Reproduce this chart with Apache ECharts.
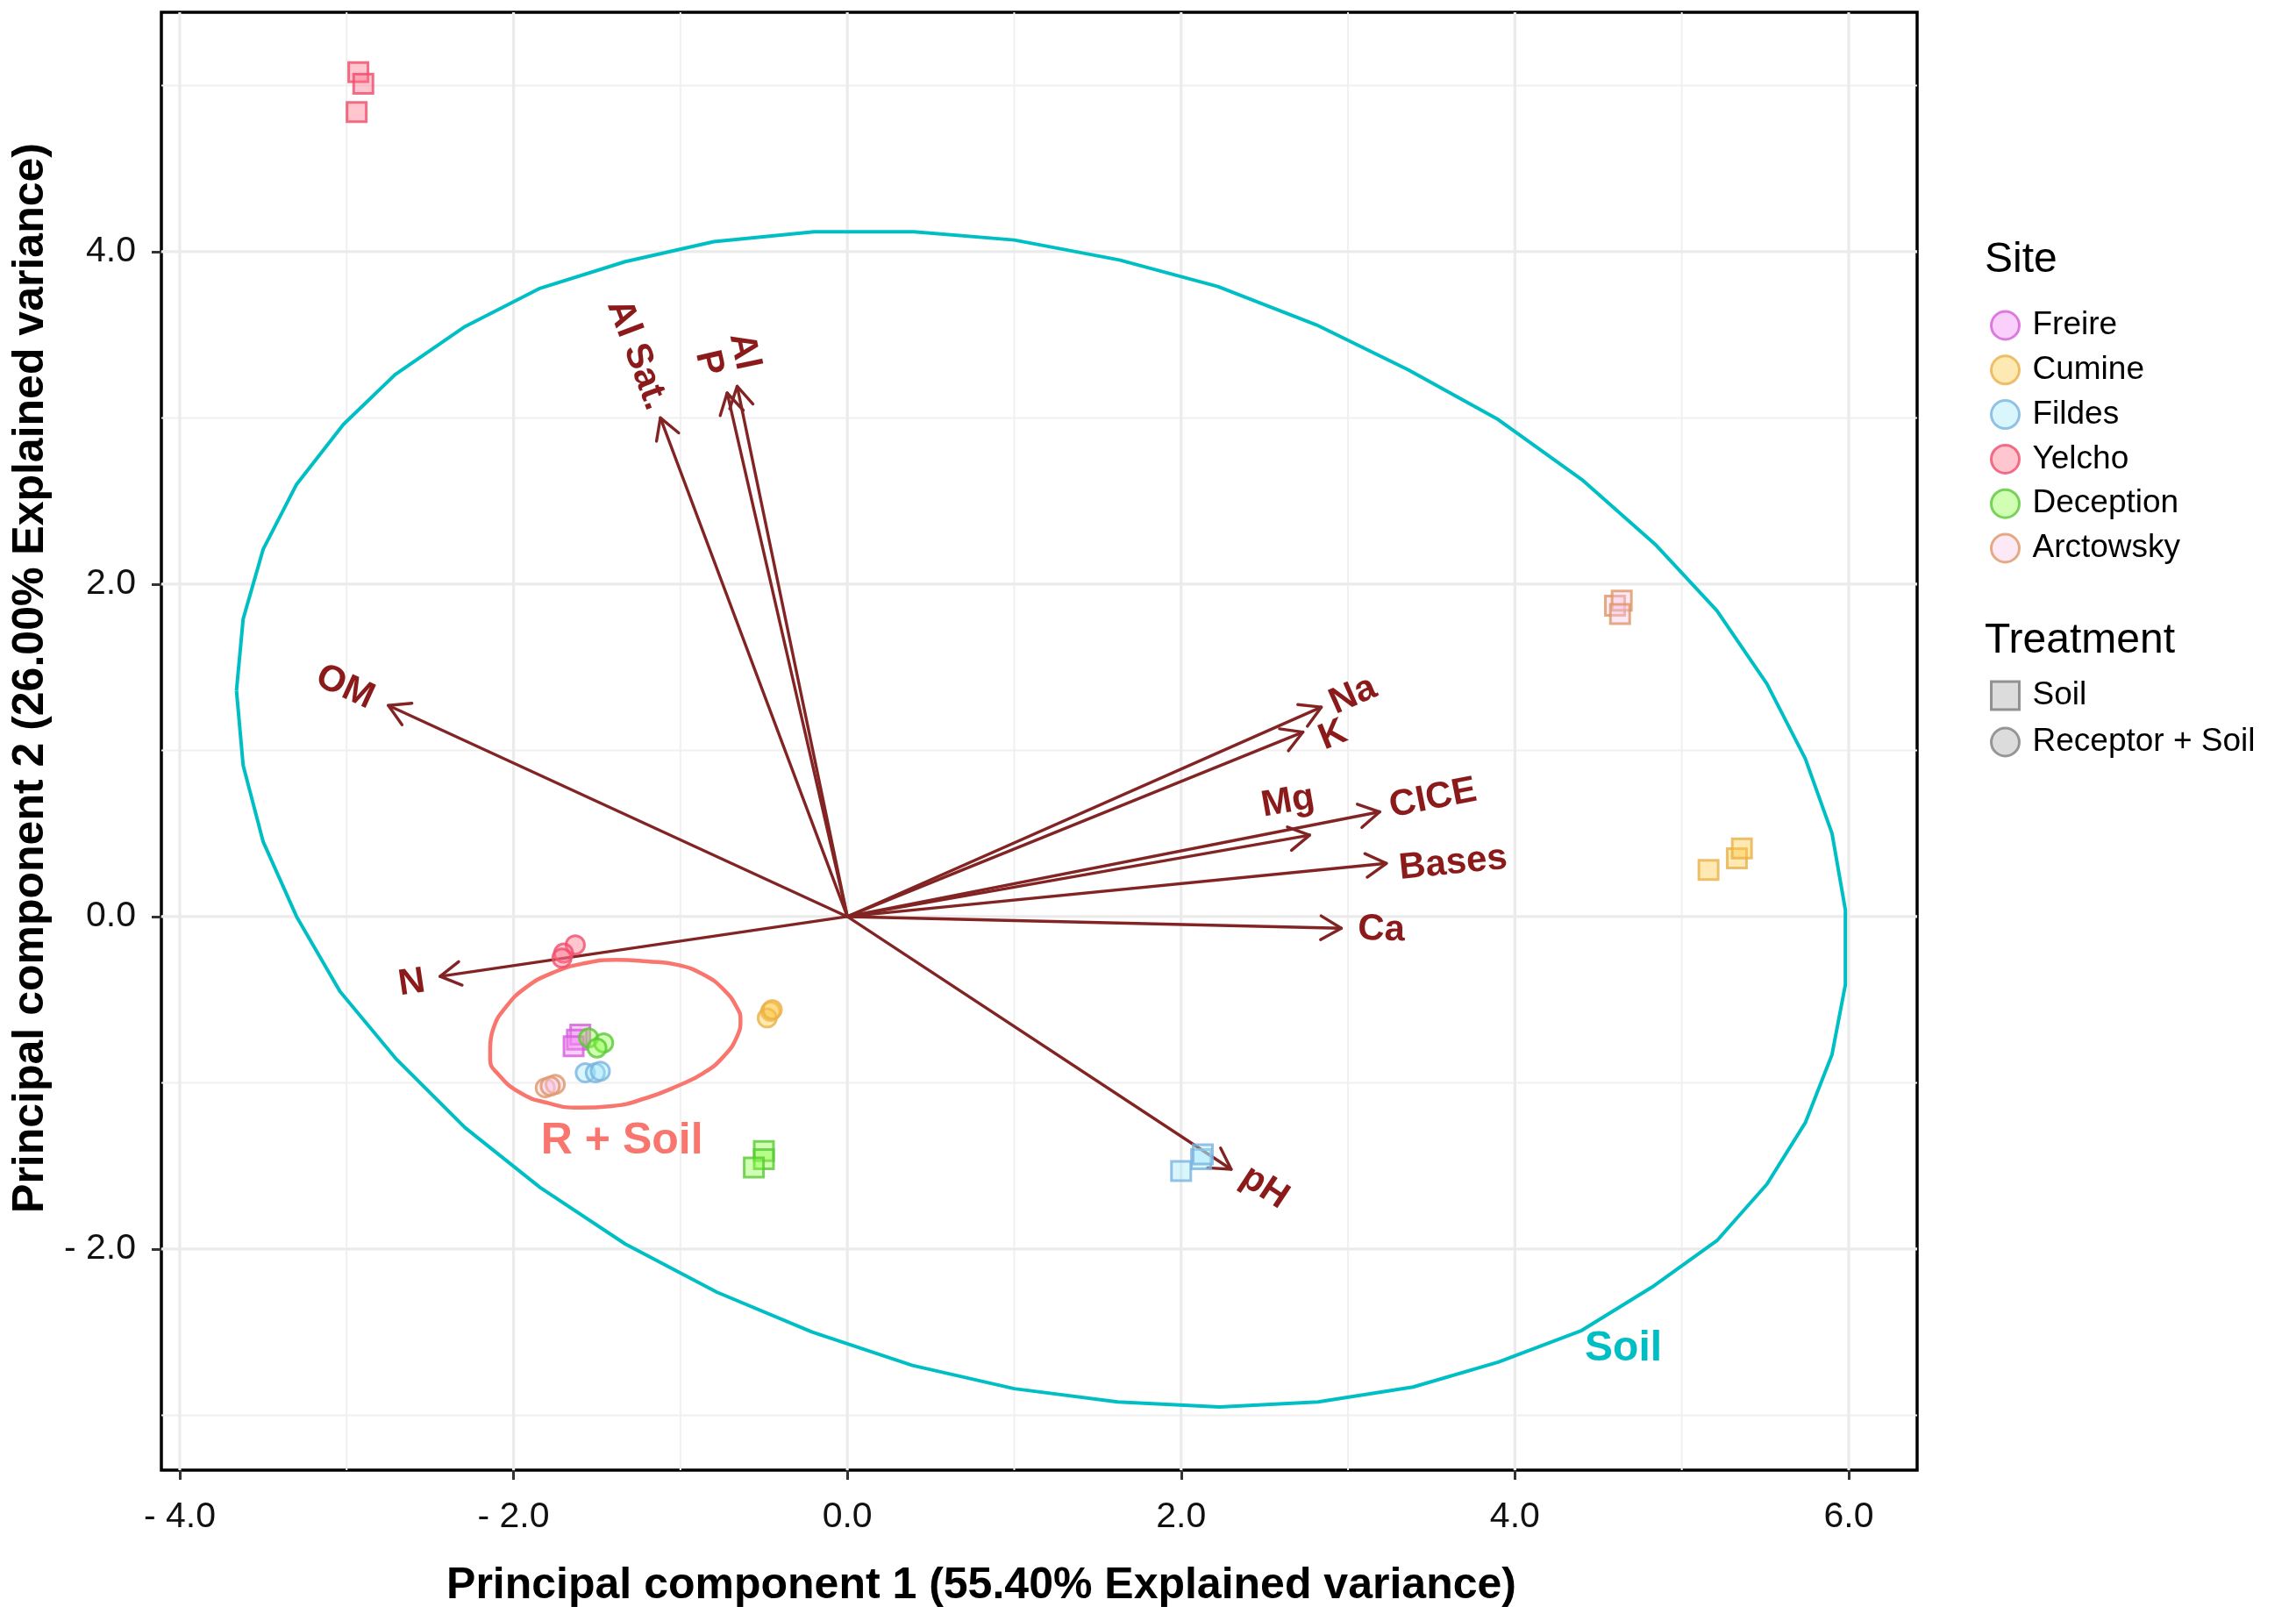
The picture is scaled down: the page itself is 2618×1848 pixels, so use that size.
<!DOCTYPE html>
<html>
<head>
  <meta charset="utf-8">
  <title>PCA biplot - soil properties</title>
  <script src="https://cdn.jsdelivr.net/npm/echarts@6/dist/echarts.min.js"></script>
  <style>
    html, body { margin: 0; background: #fff; }
    #chart { width: 2618px; height: 1848px; }
  </style>
</head>
<body>
<div id="chart"></div>
<script>
// sample scores [PC1, PC2], per site and treatment
var freireSoil = [[-1.60, -0.71], [-1.62, -0.74], [-1.64, -0.78]];
var cumineSoil = [[5.16, 0.28], [5.33, 0.35], [5.36, 0.41]];
var cumineRS = [[-0.46, -0.57], [-0.48, -0.61], [-0.45, -0.56]];
var fildesSoil = [[2.00, -1.53], [2.12, -1.46], [2.13, -1.43]];
var fildesRS = [[-1.57, -0.94], [-1.51, -0.94], [-1.48, -0.93]];
var yelchoSoil = [[-2.93, 5.08], [-2.90, 5.01], [-2.94, 4.84]];
var yelchoRS = [[-1.63, -0.17], [-1.70, -0.22], [-1.71, -0.25]];
var deceptionSoil = [[-0.50, -1.41], [-0.50, -1.46], [-0.56, -1.51]];
var deceptionRS = [[-1.55, -0.73], [-1.46, -0.76], [-1.50, -0.79]];
var arctowskySoil = [[4.60, 1.87], [4.64, 1.90], [4.63, 1.82]];
var arctowskyRS = [[-1.81, -1.03], [-1.75, -1.01], [-1.78, -1.02]];

var sites = ['Freire', 'Cumine', 'Fildes', 'Yelcho', 'Deception', 'Arctowsky'];
var treatments = ['Soil', 'Receptor + Soil'];

// variable loadings (arrow tips) and where each name sits
var variables = ['OM', 'N', 'Al Sat.', 'P', 'Al', 'Na', 'K', 'Mg', 'CICE', 'Bases', 'Ca', 'pH'];
var loadX = [-2.75, -2.44, -1.12, -0.72, -0.66, 2.84, 2.73, 2.77, 3.19, 3.23, 2.96, 2.30];
var loadY = [1.27, -0.36, 3.00, 3.15, 3.19, 1.26, 1.11, 0.49, 0.63, 0.32, -0.07, -1.52];
var nameX = [-3.01, -2.61, -1.26, -0.83, -0.62, 3.03, 2.91, 2.64, 3.51, 3.63, 3.20, 2.50];
var nameY = [1.38, -0.40, 3.38, 3.33, 3.40, 1.33, 1.09, 0.69, 0.71, 0.32, -0.08, -1.63];

// confidence ellipses
var soilEllX = [-3.66, -3.62, -3.50, -3.30, -3.02, -2.71, -2.29, -1.84, -1.33, -0.80, -0.20, 0.40, 1.00, 1.63, 2.22, 2.81, 3.36, 3.90, 4.40, 4.84, 5.21, 5.51, 5.74, 5.90, 5.98, 5.98, 5.90, 5.74, 5.51, 5.21, 4.82, 4.40, 3.90, 3.39, 2.82, 2.23, 1.62, 1.00, 0.39, -0.21, -0.78, -1.33, -1.84, -2.29, -2.70, -3.04, -3.30, -3.50, -3.62, -3.66];
var soilEllY = [1.36, 1.79, 2.21, 2.60, 2.96, 3.26, 3.55, 3.78, 3.94, 4.06, 4.12, 4.12, 4.07, 3.95, 3.79, 3.56, 3.29, 2.99, 2.63, 2.24, 1.84, 1.40, 0.95, 0.50, 0.04, -0.41, -0.83, -1.24, -1.61, -1.95, -2.23, -2.49, -2.68, -2.83, -2.92, -2.95, -2.92, -2.84, -2.70, -2.50, -2.26, -1.97, -1.63, -1.27, -0.86, -0.45, 0.00, 0.45, 0.91, 1.36];
var rsEllX = [-2.14, -2.12, -2.05, -1.93, -1.77, -1.57, -1.38, -1.20, -1.02, -0.86, -0.74, -0.66, -0.64, -0.66, -0.74, -0.86, -1.02, -1.20, -1.41, -1.61, -1.80, -1.96, -2.09, -2.14, -2.14];
var rsEllY = [-0.79, -0.67, -0.55, -0.43, -0.34, -0.28, -0.26, -0.27, -0.29, -0.35, -0.44, -0.55, -0.62, -0.72, -0.84, -0.94, -1.02, -1.09, -1.14, -1.15, -1.12, -1.06, -0.95, -0.86, -0.79];

var groupNames = ['R + Soil', 'Soil'];
var groupNameX = [-1.35, 4.65];
var groupNameY = [-1.35, -2.60];

// axis ticks
var xTicks = [-4, -2, 0, 2, 4, 6];
var yTicks = [-2, 0, 2, 4];
var xMinor = [-3, -1, 1, 3, 5];
var yMinor = [-3, -1, 1, 3, 5];

var FONT = '"Liberation Sans", Arial, Helvetica, sans-serif';
var siteFill = {
  Freire: 'rgba(245,135,245,0.5)', Cumine: 'rgba(253,201,65,0.5)', Fildes: 'rgba(161,233,249,0.5)',
  Yelcho: 'rgba(255,113,137,0.5)', Deception: 'rgba(137,255,65,0.5)', Arctowsky: 'rgba(251,197,231,0.5)'
};
var siteLine = {
  Freire: '#D35FD9', Cumine: '#EAB04A', Fildes: '#79B3DF',
  Yelcho: '#EF4E6C', Deception: '#5AC837', Arctowsky: '#DD9666'
};

function zip(xs, ys) {
  return xs.map(function (x, i) { return [x, ys[i]]; });
}

function fmt(v) {
  return v < 0 ? '- ' + Math.abs(v).toFixed(1) : v.toFixed(1);
}

function gridLines(values, vertical, width, color) {
  return {
    type: 'custom',
    silent: true,
    z: 1,
    data: values.map(function (v) { return vertical ? [v, 0] : [0, v]; }),
    renderItem: function (params, api) {
      var cs = params.coordSys;
      var p = api.coord([api.value(0), api.value(1)]);
      var shape = vertical
        ? { x1: p[0], y1: cs.y, x2: p[0], y2: cs.y + cs.height }
        : { x1: cs.x, y1: p[1], x2: cs.x + cs.width, y2: p[1] };
      return { type: 'line', shape: shape, style: { stroke: color, lineWidth: width } };
    }
  };
}

function pointSeries(site, data, symbol) {
  return {
    type: 'scatter',
    name: site,
    z: 4,
    symbol: symbol,
    symbolSize: symbol === 'rect' ? 22 : 21,
    itemStyle: { color: siteFill[site], borderColor: siteLine[site], borderWidth: 3 },
    data: data
  };
}

var series = [
  gridLines(xMinor, true, 2, '#F0F0F0'),
  gridLines(yMinor, false, 2, '#F0F0F0'),
  gridLines(xTicks, true, 3.2, '#EBEBEB'),
  gridLines(yTicks, false, 3.2, '#EBEBEB'),
  {
    type: 'line', name: 'soilEllipse', z: 2, silent: true,
    data: zip(soilEllX, soilEllY), showSymbol: false, symbol: 'none',
    lineStyle: { color: '#00BFC4', width: 4 }
  },
  {
    type: 'line', name: 'rsEllipse', z: 2, silent: true,
    data: zip(rsEllX, rsEllY), showSymbol: false, symbol: 'none', smooth: 0.5,
    lineStyle: { color: '#F8766D', width: 4.5 }
  },
  {
    type: 'custom', name: 'arrows', z: 3, silent: true,
    data: zip(loadX, loadY),
    renderItem: function (params, api) {
      var o = api.coord([0, 0]);
      var t = api.coord([api.value(0), api.value(1)]);
      var ang = Math.atan2(t[1] - o[1], t[0] - o[0]);
      var hl = 27, ha = Math.PI / 6;
      var h1 = [t[0] - hl * Math.cos(ang - ha), t[1] - hl * Math.sin(ang - ha)];
      var h2 = [t[0] - hl * Math.cos(ang + ha), t[1] - hl * Math.sin(ang + ha)];
      var st = { stroke: '#832424', lineWidth: 3.4, fill: null, lineCap: 'round', lineJoin: 'round' };
      return {
        type: 'group',
        children: [
          { type: 'line', shape: { x1: o[0], y1: o[1], x2: t[0], y2: t[1] }, style: st },
          { type: 'polyline', shape: { points: [h1, t, h2] }, style: st }
        ]
      };
    }
  },
  {
    type: 'custom', name: 'varnames', z: 5, silent: true,
    data: nameX.map(function (x, i) { return [x, nameY[i], loadX[i], loadY[i]]; }),
    renderItem: function (params, api) {
      var p = api.coord([api.value(0), api.value(1)]);
      var o = api.coord([0, 0]);
      var t = api.coord([api.value(2), api.value(3)]);
      var dx = t[0] - o[0], dy = t[1] - o[1];
      if (dx < 0) { dx = -dx; dy = -dy; }
      return {
        type: 'text', x: p[0], y: p[1], rotation: -Math.atan2(dy, dx),
        style: {
          text: variables[params.dataIndex], fill: '#8B1A1A',
          font: 'bold 42px ' + FONT, align: 'center', verticalAlign: 'middle'
        }
      };
    }
  },
  {
    type: 'custom', name: 'groupnames', z: 5, silent: true,
    data: zip(groupNameX, groupNameY),
    renderItem: function (params, api) {
      var p = api.coord([api.value(0), api.value(1)]);
      return {
        type: 'text', x: p[0], y: p[1],
        style: {
          text: groupNames[params.dataIndex],
          fill: params.dataIndex === 0 ? '#F8766D' : '#00BFC4',
          font: 'bold ' + (params.dataIndex === 0 ? 50 : 48) + 'px ' + FONT,
          align: 'center', verticalAlign: 'middle'
        }
      };
    }
  },
  pointSeries('Freire', freireSoil, 'rect'),
  pointSeries('Cumine', cumineSoil, 'rect'),
  pointSeries('Cumine', cumineRS, 'circle'),
  pointSeries('Fildes', fildesSoil, 'rect'),
  pointSeries('Fildes', fildesRS, 'circle'),
  pointSeries('Yelcho', yelchoSoil, 'rect'),
  pointSeries('Yelcho', yelchoRS, 'circle'),
  pointSeries('Deception', deceptionSoil, 'rect'),
  pointSeries('Deception', deceptionRS, 'circle'),
  pointSeries('Arctowsky', arctowskySoil, 'rect'),
  pointSeries('Arctowsky', arctowskyRS, 'circle'),
  { type: 'scatter', name: 'Soil', data: [], itemStyle: { color: '#D3D3D3', borderColor: '#7A7A7A', borderWidth: 3 } },
  { type: 'scatter', name: 'Receptor + Soil', data: [], itemStyle: { color: '#D3D3D3', borderColor: '#808080', borderWidth: 3 } }
];

var legendText = { fontSize: 37, color: '#000', fontFamily: FONT, lineHeight: 38, padding: [0, 0, 0, 10] };

var option = {
  animation: false,
  backgroundColor: '#fff',
  grid: {
    left: 184, right: 432, top: 14, bottom: 172,
    show: true, borderColor: '#000', borderWidth: 3.5, backgroundColor: '#fff'
  },
  title: [
    { text: 'Site', left: 2263, top: 273, padding: 0, textStyle: { fontSize: 48, fontWeight: 'normal', color: '#000', fontFamily: FONT } },
    { text: 'Treatment', left: 2263, top: 707, padding: 0, textStyle: { fontSize: 48, fontWeight: 'normal', color: '#000', fontFamily: FONT } }
  ],
  legend: [
    {
      data: sites.map(function (s) { return { name: s, icon: 'circle' }; }),
      orient: 'vertical', left: 2269, top: 352, padding: 0,
      itemWidth: 32, itemHeight: 32, itemGap: 12.8, selectedMode: false,
      itemStyle: { borderWidth: 3 },
      textStyle: legendText
    },
    {
      data: [{ name: treatments[0], icon: 'rect' }, { name: treatments[1], icon: 'circle' }],
      orient: 'vertical', left: 2269, top: 774, padding: 0,
      itemWidth: 32, itemHeight: 32, itemGap: 15, selectedMode: false,
      itemStyle: { borderWidth: 3 },
      textStyle: legendText
    }
  ],
  xAxis: {
    type: 'value', min: -4.11, max: 6.41,
    axisLine: { show: false, onZero: false },
    splitLine: { show: false },
    axisTick: { show: true, customValues: xTicks, length: 11, lineStyle: { color: '#333', width: 3 } },
    axisLabel: { customValues: xTicks, formatter: fmt, fontSize: 41, color: '#111', fontFamily: FONT, margin: 33 }
  },
  yAxis: {
    type: 'value', min: -3.33, max: 5.44,
    axisLine: { show: false, onZero: false },
    splitLine: { show: false },
    axisTick: { show: true, customValues: yTicks, length: 11, lineStyle: { color: '#333', width: 3 } },
    axisLabel: { customValues: yTicks, formatter: fmt, fontSize: 41, color: '#111', fontFamily: FONT, margin: 29 }
  },
  graphic: [
    {
      type: 'text', x: 1119, y: 1808,
      style: { text: 'Principal component 1 (55.40% Explained variance)', font: 'bold 50px ' + FONT, fill: '#000', align: 'center', verticalAlign: 'middle' }
    },
    {
      type: 'text', x: 35, y: 773, rotation: Math.PI / 2,
      style: { text: 'Principal component 2 (26.00% Explained variance)', font: 'bold 50px ' + FONT, fill: '#000', align: 'center', verticalAlign: 'middle' }
    }
  ],
  series: series
};

var myChart = echarts.init(document.getElementById('chart'));
myChart.setOption(option);
</script>
</body>
</html>
